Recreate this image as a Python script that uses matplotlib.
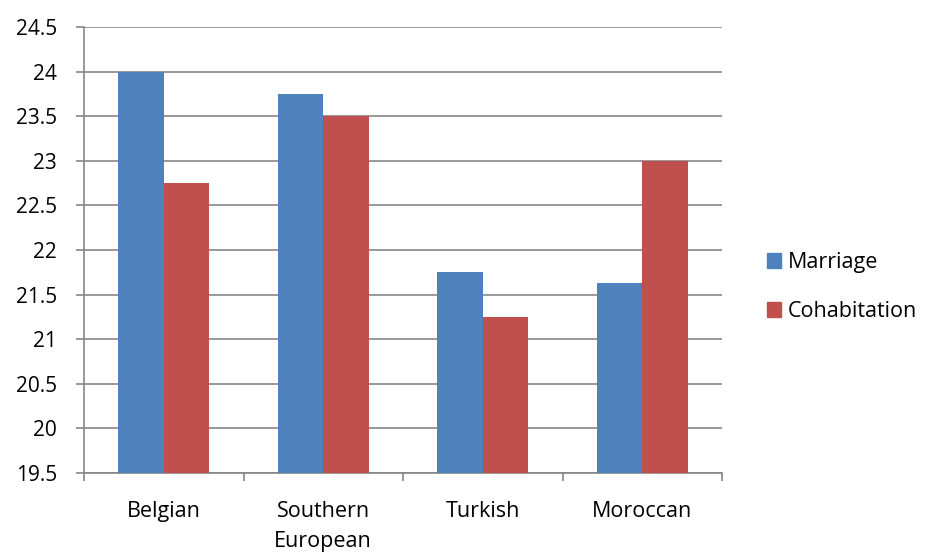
import numpy as np
import matplotlib
matplotlib.use("Agg")
from matplotlib import pyplot as plt
from matplotlib.patches import Patch

groups = ["Belgian", "Southern\nEuropean", "Turkish", "Moroccan"]
marriage = [24.0, 23.75, 21.75, 21.625]
cohabitation = [22.75, 23.5, 21.25, 23.0]
y_ticks = [19.5, 20, 20.5, 21, 21.5, 22, 22.5, 23, 23.5, 24, 24.5]
y_labels = ["19.5", "20", "20.5", "21", "21.5", "22", "22.5", "23", "23.5", "24", "24.5"]

blue = "#4F81BD"
red = "#C0504D"
grey = "#868686"

plt.rcParams["font.family"] = ["Open Sans", "DejaVu Sans"]
fs = 15.5

fig = plt.figure(figsize=(9.3, 5.54), dpi=100)
ax = fig.add_axes([84 / 930, 1 - 473 / 554, (722 - 84) / 930, (473 - 27) / 554])

x = np.arange(len(groups))
w = 0.285
ax.bar(x - w / 2, marriage, w, color=blue, zorder=3)
ax.bar(x + w / 2, cohabitation, w, color=red, zorder=3)

ax.set_ylim(19.5, 24.5)
ax.set_xlim(-0.5, len(groups) - 0.5)
ax.set_yticks(y_ticks)
ax.set_yticklabels(y_labels, fontsize=15)
ax.yaxis.grid(True, color=grey, linewidth=1.2, zorder=0)

# category boundary ticks below, labels centred without ticks
ax.set_xticks(np.arange(-0.5, len(groups)))
ax.set_xticklabels([""] * (len(groups) + 1))
ax.set_xticks(x, minor=True)
ax.set_xticklabels(groups, minor=True, fontsize=fs, linespacing=1.6)
ax.tick_params(axis="x", which="minor", length=0, pad=20)
ax.tick_params(axis="x", which="major", length=6, width=1.2, color=grey)
ax.tick_params(axis="y", length=6, width=1.2, color=grey, pad=13.5)

for side in ["top", "right"]:
    ax.spines[side].set_visible(False)
for side in ["left", "bottom"]:
    ax.spines[side].set_color(grey)
    ax.spines[side].set_linewidth(1.2)

handles = [Patch(color=blue, label="Marriage"), Patch(color=red, label="Cohabitation")]
fig.legend(handles=handles, loc="center left", bbox_to_anchor=(758 / 930, 1 - 287 / 554),
           frameon=False, fontsize=fs, handlelength=0.65, handleheight=0.65,
           handletextpad=0.35, labelspacing=1.3, borderaxespad=0)

fig.savefig("out.png", dpi=100)
